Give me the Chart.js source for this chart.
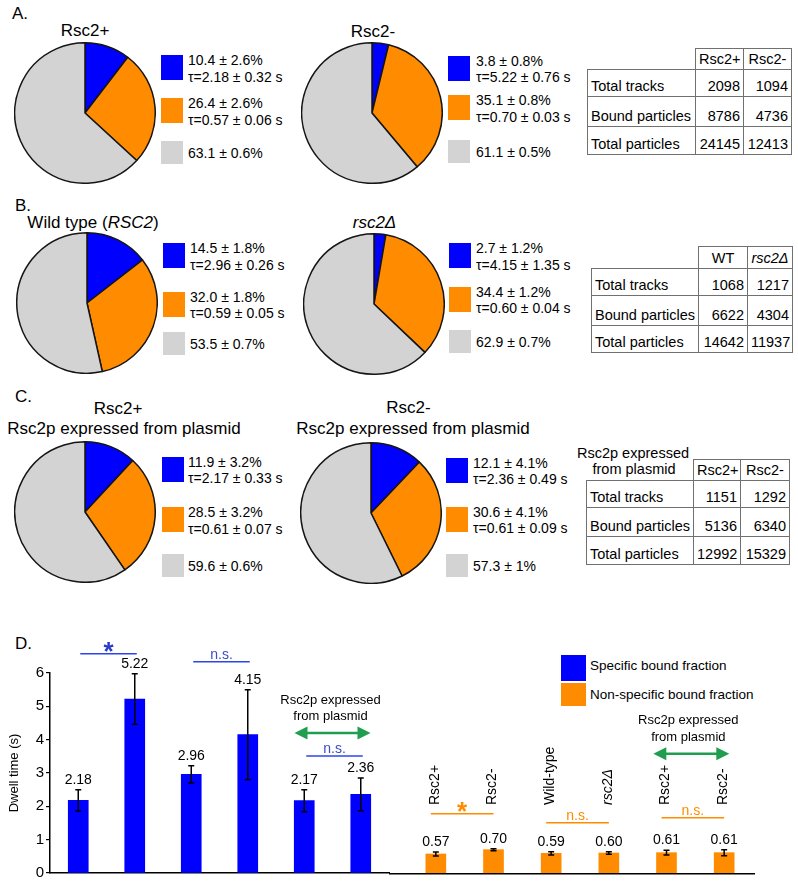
<!DOCTYPE html>
<html>
<head>
<meta charset="utf-8">
<script src="https://cdn.jsdelivr.net/npm/chart.js@4.4.1/dist/chart.umd.min.js"></script>
<style>
  body { margin: 0; background: #fff; font-family: "Liberation Sans", Arial, sans-serif; color: #000; }
  #fig { position: relative; width: 798px; height: 884px; overflow: hidden; }
  .abs { position: absolute; white-space: nowrap; line-height: 1; }
  canvas { position: absolute; }
  table { position: absolute; border-collapse: collapse; table-layout: fixed; font-size: 14.5px; }
  td { border: 1px solid #707070; padding: 0 3px 2px 3px; vertical-align: bottom; line-height: 16px; white-space: nowrap; overflow: hidden; }
  td.n { text-align: right; }
  td.h { text-align: center; }
  td.blank { border-top: none; border-left: none; }
</style>
</head>
<body>
<div id="fig"></div>
<script>
// ---- data ----
const groups = ['Rsc2+', 'Rsc2-', 'Wild type', 'rsc2Δ', 'Rsc2+ (plasmid)', 'Rsc2- (plasmid)'];
const specificPct = [10.4, 3.8, 14.5, 2.7, 11.9, 12.1];
const nonspecificPct = [26.4, 35.1, 32.0, 34.4, 28.5, 30.6];
const boundPctErr = [2.6, 0.8, 1.8, 1.2, 3.2, 4.1];
const unboundPct = [63.1, 61.1, 53.5, 62.9, 59.6, 57.3];
const unboundPctErr = [0.6, 0.5, 0.7, 0.7, 0.6, 1];
const specificTau = [2.18, 5.22, 2.96, 4.15, 2.17, 2.36];
const specificTauErr = [0.32, 0.76, 0.26, 1.35, 0.33, 0.49];
const nonspecificTau = [0.57, 0.70, 0.59, 0.60, 0.61, 0.61];
const nonspecificTauErr = [0.06, 0.03, 0.05, 0.04, 0.07, 0.09];

const tableRows = ['Total tracks', 'Bound particles', 'Total particles'];
const totalTracks = [2098, 1094, 1068, 1217, 1151, 1292];
const boundParticles = [8786, 4736, 6622, 4304, 5136, 6340];
const totalParticles = [24145, 12413, 14642, 11937, 12992, 15329];
const tableHeads = [['Rsc2+', 'Rsc2-'], ['WT', '<i>rsc2Δ</i>'], ['Rsc2+', 'Rsc2-']];

const pieTitles = ['Rsc2+', 'Rsc2-', 'Wild type (<i>RSC2</i>)', '<i>rsc2Δ</i>', 'Rsc2+', 'Rsc2-'];
const barLabels = ['Rsc2+', 'Rsc2-', 'Wild-type', 'rsc2Δ', 'Rsc2+', 'Rsc2-'];
const sliceNames = ['Specific bound fraction', 'Non-specific bound fraction', 'Unbound'];

const BLUE = '#0000ff', ORANGE = '#ff8c00', GRAY = '#d3d3d3', GREEN = '#1f9e4f';
const FONT = '"Liberation Sans", Arial, sans-serif';
Chart.defaults.font.family = FONT;
Chart.defaults.color = '#000';

const fig = document.getElementById('fig');

function txt(x, y, html, size, align) {
  const d = document.createElement('div');
  d.className = 'abs';
  d.style.left = x + 'px';
  d.style.top = y + 'px';
  d.style.fontSize = size + 'px';
  d.style.transform = align === 'c' ? 'translate(-50%,-50%)' : 'translate(0,-50%)';
  d.innerHTML = html;
  fig.appendChild(d);
  return d;
}
function box(x, y, w, h, color) {
  const d = document.createElement('div');
  d.className = 'abs';
  Object.assign(d.style, { left: x + 'px', top: y + 'px', width: w + 'px', height: h + 'px', background: color });
  fig.appendChild(d);
}

// panel letters
txt(12, 13, 'A.', 17);
txt(15, 205, 'B.', 17);
txt(15, 396, 'C.', 17);
txt(15, 643, 'D.', 17);

// ---- pies ----
const pieLayout = [
  { cx: 85, cy: 113, tx: 85, ty: 30, sq: 161, lx: 188, y: [60, 103.3, 153] },
  { cx: 372, cy: 113, tx: 373, ty: 31, sq: 448, lx: 476, y: [60.7, 100, 152] },
  { cx: 87, cy: 303, tx: 93, ty: 222, sq: 163, lx: 190, y: [248.3, 296.7, 344] },
  { cx: 373.5, cy: 303.5, tx: 374.5, ty: 222, sq: 449, lx: 476, y: [248, 291.7, 341.7] },
  { cx: 85, cy: 512, tx: 118, ty: 408, sq: 162, lx: 188, y: [461.7, 512, 565.7] },
  { cx: 371, cy: 512.5, tx: 408.5, ty: 407, sq: 446, lx: 473, y: [462.7, 511.7, 566] }
];

pieLayout.forEach((p, i) => {
  const size = 142;
  const cv = document.createElement('canvas');
  cv.width = size; cv.height = size;
  cv.style.left = (p.cx - size / 2) + 'px';
  cv.style.top = (p.cy - size / 2) + 'px';
  cv.style.width = size + 'px'; cv.style.height = size + 'px';
  fig.appendChild(cv);
  new Chart(cv, {
    type: 'pie',
    data: {
      labels: sliceNames,
      datasets: [{
        data: [specificPct[i], nonspecificPct[i], unboundPct[i]],
        backgroundColor: [BLUE, ORANGE, GRAY],
        borderColor: '#151515',
        borderWidth: 1.5
      }]
    },
    options: {
      responsive: false, animation: false, events: [],
      layout: { padding: 0 },
      plugins: { legend: { display: false }, tooltip: { enabled: false } }
    }
  });

  txt(p.tx, p.ty, pieTitles[i], 17, 'c');
  if (i >= 4) txt(i === 4 ? 124 : 413, 428, 'Rsc2p expressed from plasmid', 17, 'c');

  const [y1, y2, y3] = p.y;
  box(p.sq, y1 - 5, 22, 25, BLUE);
  txt(p.lx, y1, `${specificPct[i].toFixed(1)} ± ${boundPctErr[i].toFixed(1)}%`, 14);
  txt(p.lx, y1 + 16.7, `τ=${specificTau[i].toFixed(2)} ± ${specificTauErr[i].toFixed(2)} s`, 14);
  box(p.sq, y2 - 5, 22, 25, ORANGE);
  txt(p.lx, y2, `${nonspecificPct[i].toFixed(1)} ± ${boundPctErr[i].toFixed(1)}%`, 14);
  txt(p.lx, y2 + 16.7, `τ=${nonspecificTau[i].toFixed(2)} ± ${nonspecificTauErr[i].toFixed(2)} s`, 14);
  box(p.sq, y3 - 12, 22, 23, GRAY);
  txt(p.lx, y3, `${unboundPct[i].toFixed(1)} ± ${unboundPctErr[i]}%`, 14);
});

// ---- tables ----
const tableLayout = [
  { left: 587, top: 48, cols: [108, 48, 48], rows: [21, 27, 30, 28] },
  { left: 591, top: 246, cols: [107, 49, 45], rows: [22, 27, 30, 27] },
  { left: 586, top: 459, cols: [107, 47, 49], rows: [21, 27, 29, 28] }
];
const tableCols = [totalTracks, boundParticles, totalParticles];
tableLayout.forEach((L, t) => {
  const tb = document.createElement('table');
  tb.style.left = L.left + 'px';
  tb.style.top = L.top + 'px';
  tb.style.width = L.cols.reduce((a, b) => a + b, 0) + 'px';
  let html = '<colgroup>' + L.cols.map(w => `<col style="width:${w}px">`).join('') + '</colgroup>';
  html += `<tr style="height:${L.rows[0]}px"><td class="blank"></td><td class="h">${tableHeads[t][0]}</td><td class="h">${tableHeads[t][1]}</td></tr>`;
  tableRows.forEach((r, k) => {
    const src = tableCols[k];
    html += `<tr style="height:${L.rows[k + 1]}px"><td>${r}</td><td class="n">${src[t * 2]}</td><td class="n">${src[t * 2 + 1]}</td></tr>`;
  });
  tb.innerHTML = html;
  fig.appendChild(tb);
});
txt(633, 452.7, 'Rsc2p expressed', 14.5, 'c');
txt(634, 469.3, 'from plasmid', 14.5, 'c');

// ---- panel D ----
box(561, 655, 25, 25.5, BLUE);
box(561, 683, 25, 23, ORANGE);
txt(590, 665.7, 'Specific bound fraction', 13.5);
txt(590, 695, 'Non-specific bound fraction', 13.5);

function annot(cfg) {
  return {
    id: 'annot',
    afterDatasetsDraw(chart) {
      const ctx = chart.ctx, y = chart.scales.y, a = chart.chartArea;
      const vals = chart.data.datasets[0].data, errs = cfg.errs;
      const xs = chart.getDatasetMeta(0).data.map(b => b.x);
      const tops = vals.map((v, i) => y.getPixelForValue(v + errs[i]));
      ctx.save();
      if (cfg.axisFrom != null) {
        ctx.strokeStyle = '#000'; ctx.lineWidth = 1.5;
        ctx.beginPath(); ctx.moveTo(cfg.axisFrom, a.bottom + 0.75); ctx.lineTo(a.right + 2, a.bottom + 0.75); ctx.stroke();
      }
      // error bars
      ctx.strokeStyle = '#000'; ctx.lineWidth = 1.5;
      vals.forEach((v, i) => {
        const t = tops[i], b = y.getPixelForValue(v - errs[i]);
        ctx.beginPath();
        ctx.moveTo(xs[i], t); ctx.lineTo(xs[i], b);
        ctx.moveTo(xs[i] - 3, t); ctx.lineTo(xs[i] + 3, t);
        ctx.moveTo(xs[i] - 3, b); ctx.lineTo(xs[i] + 3, b);
        ctx.stroke();
      });
      // values
      ctx.fillStyle = '#000'; ctx.font = '14px ' + FONT;
      ctx.textAlign = 'center'; ctx.textBaseline = 'bottom';
      vals.forEach((v, i) => ctx.fillText(v.toFixed(2), xs[i], tops[i] - 3));
      // significance lines
      const lineYs = cfg.sigs.map(s => {
        const ly = Math.min(tops[s.a], tops[s.b]) - s.lift;
        const x1 = xs[s.a] + cfg.sigDx[0], x2 = xs[s.b] + cfg.sigDx[1];
        ctx.strokeStyle = cfg.sigColor; ctx.lineWidth = 1.5;
        ctx.beginPath(); ctx.moveTo(x1, ly); ctx.lineTo(x2, ly); ctx.stroke();
        ctx.textAlign = 'center'; ctx.textBaseline = 'alphabetic';
        if (s.label === '*') {
          ctx.font = 'bold 26px ' + FONT; ctx.fillStyle = cfg.starColor;
          ctx.fillText('*', (x1 + x2) / 2, ly + 6);
        } else {
          ctx.font = '14px ' + FONT; ctx.fillStyle = cfg.nsColor;
          ctx.fillText(s.label, (x1 + x2) / 2, ly - 3);
        }
        return ly;
      });
      // plasmid arrow
      const ar = cfg.arrow;
      const ay = lineYs[ar.over] - ar.lift;
      const mid = (xs[ar.a] + xs[ar.b]) / 2;
      const l = mid + ar.dx - ar.half, r = mid + ar.dx + ar.half;
      ctx.strokeStyle = GREEN; ctx.fillStyle = GREEN; ctx.lineWidth = 2.5;
      ctx.beginPath(); ctx.moveTo(l + 10, ay); ctx.lineTo(r - 10, ay); ctx.stroke();
      ctx.beginPath(); ctx.moveTo(l, ay); ctx.lineTo(l + 13, ay - 6.5); ctx.lineTo(l + 13, ay + 6.5); ctx.closePath(); ctx.fill();
      ctx.beginPath(); ctx.moveTo(r, ay); ctx.lineTo(r - 13, ay - 6.5); ctx.lineTo(r - 13, ay + 6.5); ctx.closePath(); ctx.fill();
      ctx.fillStyle = '#000'; ctx.font = '13px ' + FONT; ctx.textAlign = 'center'; ctx.textBaseline = 'middle';
      ctx.fillText('Rsc2p expressed', mid + ar.textDx, ay - 33);
      ctx.fillText('from plasmid', mid + ar.textDx, ay - 16.5);
      // rotated labels
      if (cfg.rotLabels) {
        chart.data.labels.forEach((lab, i) => {
          ctx.save();
          ctx.translate(xs[i] - 1, a.bottom - 68);
          ctx.rotate(-Math.PI / 2);
          ctx.font = (lab === 'rsc2Δ' ? 'italic ' : '') + '14px ' + FONT;
          ctx.fillStyle = '#000'; ctx.textAlign = 'left'; ctx.textBaseline = 'middle';
          ctx.fillText(lab, 0, 0);
          ctx.restore();
        });
      }
      ctx.restore();
    }
  };
}

function barCanvas(left, width) {
  const cv = document.createElement('canvas');
  cv.width = width; cv.height = 254;
  cv.style.left = left + 'px'; cv.style.top = '630px';
  cv.style.width = width + 'px'; cv.style.height = '254px';
  fig.appendChild(cv);
  return cv;
}

const xHidden = {
  ticks: { display: false },
  grid: { display: false },
  afterFit(s) { s.height = 11; }
};

new Chart(barCanvas(0, 392), {
  type: 'bar',
  data: { labels: barLabels, datasets: [{ label: sliceNames[0], data: specificTau, backgroundColor: BLUE, barThickness: 20 }] },
  options: {
    responsive: false, animation: false, events: [],
    layout: { padding: { top: 43, right: 3, left: 0, bottom: 0 } },
    plugins: { legend: { display: false }, tooltip: { enabled: false } },
    scales: {
      x: Object.assign({ border: { display: true, color: '#000', width: 1.5 } }, xHidden),
      y: {
        min: 0, max: 6,
        ticks: { stepSize: 1, font: { size: 15 }, padding: 2, color: '#000' },
        grid: { display: true, drawOnChartArea: false, drawTicks: true, tickLength: 4, color: '#000', lineWidth: 1.2 },
        border: { display: true, color: '#000', width: 1.5 },
        title: { display: true, text: 'Dwell time (s)', font: { size: 13 }, padding: { top: 7, bottom: 2 } },
        afterFit(s) { s.width = 50; }
      }
    }
  },
  plugins: [annot({
    errs: specificTauErr,
    sigs: [{ a: 0, b: 1, label: '*', lift: 20 }, { a: 2, b: 3, label: 'n.s.', lift: 28 }, { a: 4, b: 5, label: 'n.s.', lift: 22 }],
    sigDx: [2, 2], sigColor: '#2a44f0', starColor: '#2b3bc8', nsColor: '#3a4cc8',
    arrow: { a: 4, b: 5, over: 2, lift: 23, half: 38, dx: 0, textDx: -2 }
  })]
});

new Chart(barCanvas(389, 409), {
  type: 'bar',
  data: { labels: barLabels, datasets: [{ label: sliceNames[1], data: nonspecificTau, backgroundColor: ORANGE, barThickness: 20 }] },
  options: {
    responsive: false, animation: false, events: [],
    layout: { padding: { top: 43, right: 45, left: 18, bottom: 0 } },
    plugins: { legend: { display: false }, tooltip: { enabled: false } },
    scales: {
      x: Object.assign({ border: { display: false } }, xHidden),
      y: { min: 0, max: 6, display: false }
    }
  },
  plugins: [annot({
    errs: nonspecificTauErr, axisFrom: 0,
    sigs: [{ a: 0, b: 1, label: '*', lift: 35 }, { a: 2, b: 3, label: 'n.s.', lift: 29 }, { a: 4, b: 5, label: 'n.s.', lift: 32 }],
    sigDx: [-5, 0], sigColor: ORANGE, starColor: ORANGE, nsColor: ORANGE,
    arrow: { a: 4, b: 5, over: 2, lift: 64, half: 38, dx: -4, textDx: -7 },
    rotLabels: true
  })]
});
</script>
</body>
</html>
